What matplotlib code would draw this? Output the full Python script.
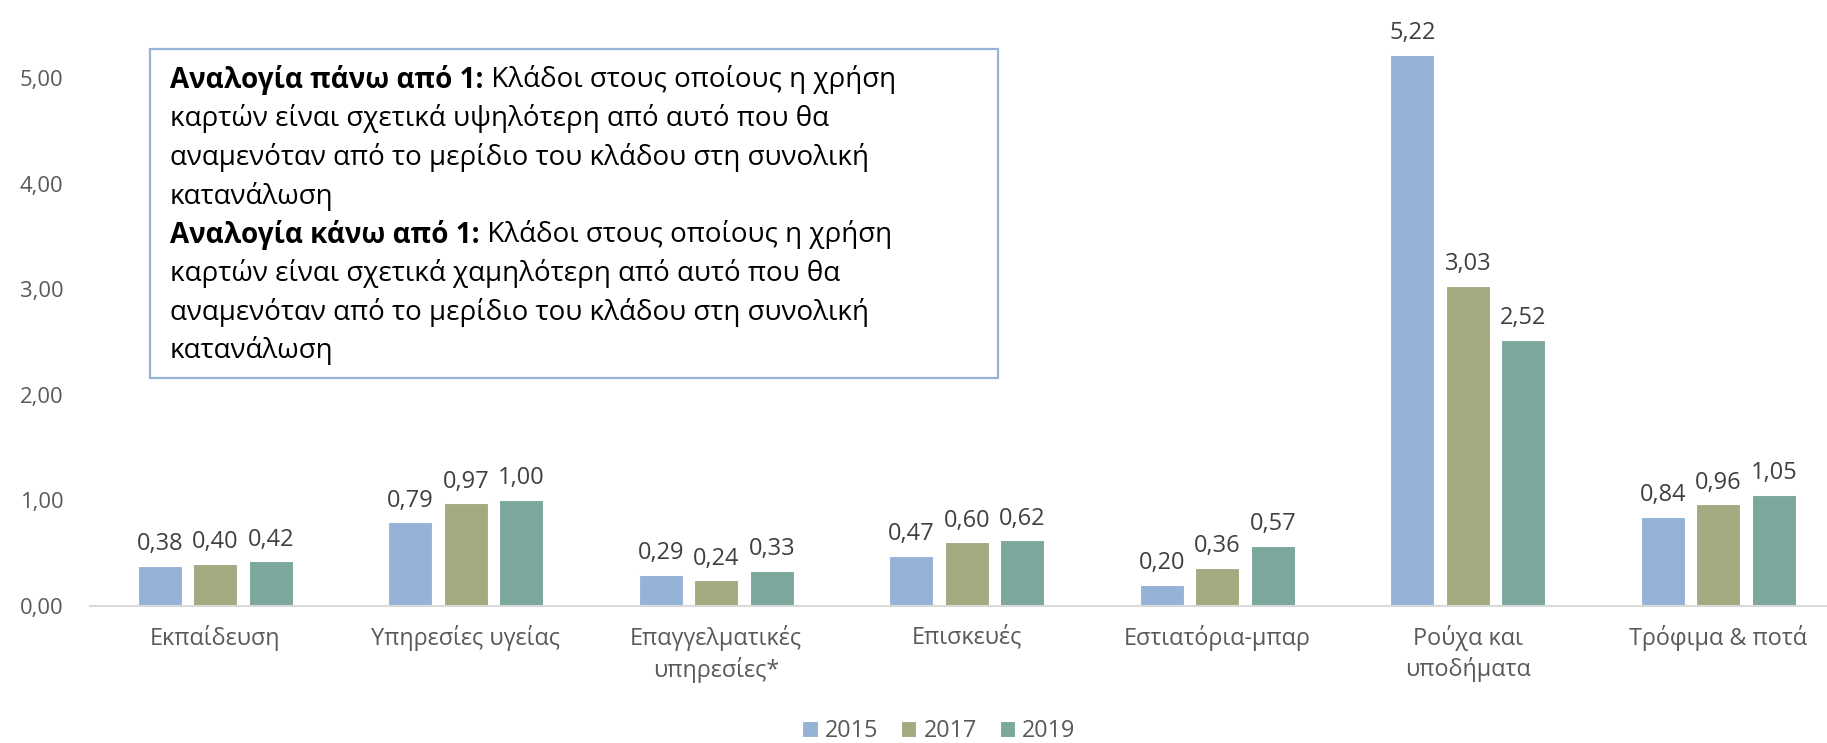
import matplotlib.pyplot as plt
import numpy as np
from matplotlib.patches import Rectangle

plt.rcParams['font.family'] = ['Open Sans', 'Noto Sans', 'DejaVu Sans']

# data
categories = ['Εκπαίδευση', 'Υπηρεσίες υγείας', 'Επαγγελματικές\nυπηρεσίες*',
              'Επισκευές', 'Εστιατόρια-μπαρ', 'Ρούχα και\nυποδήματα', 'Τρόφιμα & ποτά']
years = ['2015', '2017', '2019']
v2015 = [0.38, 0.79, 0.29, 0.47, 0.20, 5.22, 0.84]
v2017 = [0.40, 0.97, 0.24, 0.60, 0.36, 3.03, 0.96]
v2019 = [0.42, 1.00, 0.33, 0.62, 0.57, 2.52, 1.05]
colors = ['#95B3D7', '#A4AA7F', '#7BA79C']

note_lines = [
    ('Αναλογία πάνω από 1:', ' Κλάδοι στους οποίους η χρήση'),
    ('', 'καρτών είναι σχετικά υψηλότερη από αυτό που θα'),
    ('', 'αναμενόταν από το μερίδιο του κλάδου στη συνολική'),
    ('', 'κατανάλωση'),
    ('Αναλογία κάνω από 1:', ' Κλάδοι στους οποίους η χρήση'),
    ('', 'καρτών είναι σχετικά χαμηλότερη από αυτό που θα'),
    ('', 'αναμενόταν από το μερίδιο του κλάδου στη συνολική'),
    ('', 'κατανάλωση'),
]

W, H = 1827, 743
fig = plt.figure(figsize=(W / 100, H / 100), dpi=100)
ax = fig.add_axes([90 / W, (H - 605.7) / H, 1753.5 / W, 5.6 * 105.5 / H])

x = np.arange(len(categories))
pitch = 0.2216
bw = 0.1757
for i, (vals, c, yr) in enumerate(zip([v2015, v2017, v2019], colors, years)):
    bars = ax.bar(x + (i - 1) * pitch, vals, bw, color=c, edgecolor='white',
                  linewidth=0.8, label=yr)
    ax.bar_label(bars, labels=[f'{v:.2f}'.replace('.', ',') for v in vals],
                 padding=7, fontsize=17, color='#404040')

ax.set_xlim(-0.5, len(categories) - 0.5)
ax.set_ylim(0, 5.6)
ax.set_yticks(np.arange(0, 6, 1))
ax.set_yticklabels([f'{t:.2f}'.replace('.', ',') for t in np.arange(0, 6, 1)])
ax.set_xticks(x)
ax.set_xticklabels(categories, linespacing=1.3)
ax.tick_params(axis='y', length=0, pad=19, labelsize=15.8, labelcolor='#595959')
ax.tick_params(axis='x', length=0, pad=14, labelsize=16.8, labelcolor='#595959')
for s in ['left', 'right', 'top']:
    ax.spines[s].set_visible(False)
ax.spines['bottom'].set_color('#D9D9D9')
ax.spines['bottom'].set_linewidth(1.5)

# explanatory note box
fig.patches.append(Rectangle((150 / W, 1 - 378 / H), 848 / W, 329 / H,
                             transform=fig.transFigure, fill=False,
                             edgecolor='#95B3D7', linewidth=1.6))
for k, (bold, normal) in enumerate(note_lines):
    yc = 1 - (80 + k * 38.7) / H
    if bold:
        tb = fig.text(170 / W, yc, bold, fontsize=20, fontweight='bold',
                      va='center', ha='left', color='black')
        ax.annotate(normal, xy=(1, 0.5), xycoords=tb, va='center', ha='left',
                    fontsize=20, color='black', annotation_clip=False)
    else:
        fig.text(170 / W, yc, normal, fontsize=20, va='center', ha='left',
                 color='black')

fig.legend(loc='center', bbox_to_anchor=(939 / W, 1 - 731 / H), ncol=3,
           frameon=False, fontsize=16.8, handlelength=0.65, handleheight=0.65,
           handletextpad=0.3, columnspacing=1.0, labelcolor='#595959')

fig.savefig('out.png', dpi=100)
